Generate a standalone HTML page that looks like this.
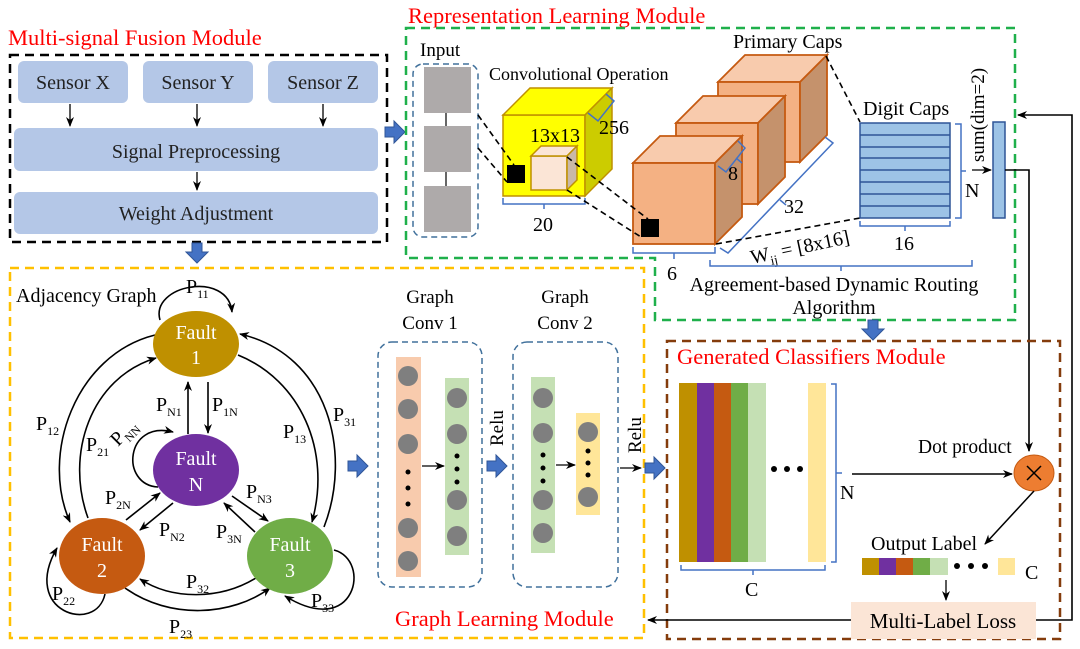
<!DOCTYPE html>
<html><head><meta charset="utf-8"><style>
html,body{margin:0;padding:0;background:#fff;}
svg{display:block;font-family:"Liberation Serif",serif;}
</style></head><body>
<svg width="1080" height="649" viewBox="0 0 1080 649" xmlns="http://www.w3.org/2000/svg">
<defs>
<marker id="a" markerWidth="10" markerHeight="8" refX="9" refY="4" orient="auto" markerUnits="userSpaceOnUse"><path d="M0,0 L10,4 L0,8 L3,4 Z" fill="#000"/></marker>
<g id="barrow"><path d="M0,-5 H9 V-11 L20,0 L9,11 V5 H0 Z" fill="#4472c4" stroke="#2f5597" stroke-width="1"/></g>
</defs>

<!-- Multi-signal Fusion -->
<text x="8" y="45" font-size="22.5" fill="#ff0000">Multi-signal Fusion Module</text>
<rect x="10" y="55" width="377" height="187" fill="none" stroke="#000" stroke-width="2.5" stroke-dasharray="9,6"/>
<g fill="#b4c7e7">
<rect x="18" y="61" width="110" height="42" rx="6"/>
<rect x="143" y="61" width="110" height="42" rx="6"/>
<rect x="268" y="61" width="110" height="42" rx="6"/>
<rect x="14" y="128" width="364" height="43" rx="6"/>
<rect x="14" y="192" width="364" height="42" rx="6"/>
</g>
<g font-size="20" text-anchor="middle" fill="#222">
<text x="73" y="89">Sensor X</text><text x="198" y="89">Sensor Y</text><text x="323" y="89">Sensor Z</text>
<text x="196" y="158">Signal Preprocessing</text>
<text x="196" y="220">Weight Adjustment</text>
</g>
<g stroke="#000" stroke-width="1.3" marker-end="url(#a)">
<line x1="70" y1="104" x2="70" y2="126"/><line x1="197" y1="104" x2="197" y2="126"/><line x1="323" y1="104" x2="323" y2="126"/>
<line x1="197" y1="172" x2="197" y2="190"/>
</g>
<use href="#barrow" transform="translate(385,132)"/>
<use href="#barrow" transform="translate(197,243) rotate(90)"/>

<!-- Representation Learning -->
<text x="408" y="23" font-size="22.5" fill="#ff0000">Representation Learning Module</text>
<path d="M406 28 H1015 V320 H655 V258 H406 Z" fill="none" stroke="#1fb04b" stroke-width="2.5" stroke-dasharray="9,6"/>
<text x="420" y="56" font-size="19">Input</text>
<rect x="413" y="64" width="65" height="173" rx="10" fill="none" stroke="#41719c" stroke-width="1.5" stroke-dasharray="6,4"/>
<line x1="446" y1="110" x2="446" y2="190" stroke="#000" stroke-width="1.2"/>
<g fill="#aeaaaa"><rect x="424" y="67" width="47" height="46"/><rect x="424" y="126" width="47" height="46"/><rect x="424" y="186" width="47" height="46"/></g>
<text x="489" y="80" font-size="18">Convolutional Operation</text>
<g stroke="#bf9000" stroke-width="1.5">
<rect x="503" y="115" width="82" height="81" fill="#ffff00"/>
<polygon points="503,115 530,88 612,88 585,115" fill="#ffff00"/>
<polygon points="585,115 612,88 612,169 585,196" fill="#cccc00"/>
<rect x="531" y="156" width="36" height="34" fill="#fbe5d6"/>
<polygon points="531,156 541,146 577,146 567,156" fill="#fbe5d6"/>
<polygon points="567,156 577,146 577,180 567,190" fill="#c9b8a8"/>
</g>
<rect x="507" y="165" width="18" height="18" fill="#000"/>
<text x="530" y="142" font-size="20">13x13</text>
<text x="599" y="134" font-size="20">256</text>
<path d="M588 113 L598 121 L614 101 L606 94" fill="none" stroke="#4472c4" stroke-width="1.5"/>
<path d="M503 198 V204 H585 V198 M544 204 V209" fill="none" stroke="#4472c4" stroke-width="1.5"/>
<text x="533" y="231" font-size="20">20</text>
<g stroke="#c55a11" stroke-width="1.8">
<polygon points="718,82 745,55 827,55 800,82" fill="#f8cbad"/>
<rect x="718" y="82" width="82" height="80" fill="#f4b183"/>
<polygon points="800,82 827,55 827,135 800,162" fill="#c5926c"/>
<polygon points="676,123 703,96 785,96 758,123" fill="#f8cbad"/>
<rect x="676" y="123" width="82" height="81" fill="#f4b183"/>
<polygon points="758,123 785,96 785,177 758,204" fill="#c5926c"/>
<polygon points="633,163 660,136 742,136 715,163" fill="#f8cbad"/>
<rect x="633" y="163" width="82" height="81" fill="#f4b183"/>
<polygon points="715,163 742,136 742,217 715,244" fill="#c5926c"/>
</g>
<rect x="641" y="219" width="18" height="18" fill="#000"/>
<text x="733" y="48" font-size="20">Primary Caps</text>
<path d="M718 166 L726 172 L745 148 L738 141 M736 158 L742 163" fill="none" stroke="#4472c4" stroke-width="1.5"/>
<text x="728" y="180" font-size="20">8</text>
<path d="M720 248 L728 253 L833 143 L825 137 M780 200 L786 205" fill="none" stroke="#4472c4" stroke-width="1.5"/>
<text x="784" y="213" font-size="20">32</text>
<path d="M633 247 V253 H715 V247 M674 253 V259" fill="none" stroke="#4472c4" stroke-width="1.5"/>
<text x="667" y="280" font-size="20">6</text>
<g stroke="#000" stroke-width="1.6" stroke-dasharray="6,4" fill="none">
<line x1="478" y1="115" x2="514" y2="165"/>
<line x1="478" y1="148" x2="507" y2="182"/>
<line x1="567" y1="157" x2="648" y2="219"/>
<line x1="567" y1="190" x2="641" y2="237"/>
<line x1="826" y1="56" x2="860" y2="122"/>
<line x1="716" y1="244" x2="860" y2="218"/>
</g>
<text x="0" y="0" font-size="20" transform="translate(752,264) rotate(-12)">W<tspan font-size="13" dy="5">ij</tspan><tspan dy="-5"> = [8x16]</tspan></text>
<text x="863" y="115" font-size="20">Digit Caps</text>
<rect x="860" y="123" width="90" height="95" fill="#9dc3e6" stroke="#2f5597" stroke-width="1.5"/>
<g stroke="#2f5597" stroke-width="1.5">
<line x1="860" y1="135" x2="950" y2="135"/><line x1="860" y1="147" x2="950" y2="147"/><line x1="860" y1="158" x2="950" y2="158"/><line x1="860" y1="170" x2="950" y2="170"/><line x1="860" y1="182" x2="950" y2="182"/><line x1="860" y1="194" x2="950" y2="194"/><line x1="860" y1="206" x2="950" y2="206"/>
</g>
<path d="M955 124 H961 V218 H955 M961 171 H966" fill="none" stroke="#4472c4" stroke-width="1.5"/>
<path d="M860 221 V226 H950 V221 M905 226 V231" fill="none" stroke="#4472c4" stroke-width="1.5"/>
<text x="894" y="250" font-size="20">16</text>
<text x="965" y="197" font-size="20">N</text>
<text x="0" y="0" font-size="19" transform="translate(984,162) rotate(-90)">sum(dim=2)</text>
<line x1="972" y1="170" x2="991" y2="170" stroke="#000" stroke-width="1.3" marker-end="url(#a)"/>
<rect x="993" y="122" width="12" height="96" fill="#9dc3e6" stroke="#2f5597" stroke-width="1.5"/>
<path d="M710 260 V266 H972 V260 M841 266 V271" fill="none" stroke="#4472c4" stroke-width="1.5"/>
<text x="834" y="291" font-size="20" text-anchor="middle">Agreement-based Dynamic Routing</text>
<text x="834" y="314" font-size="20" text-anchor="middle">Algorithm</text>
<use href="#barrow" transform="translate(873,320) rotate(90)"/>
<polyline points="1005,170 1029,170 1029,451" fill="none" stroke="#000" stroke-width="1.6" marker-end="url(#a)"/>
<polyline points="1036,620 1072,620 1072,115 1018,115" fill="none" stroke="#000" stroke-width="1.6" marker-end="url(#a)"/>

<!-- Graph Learning Module -->
<rect x="10" y="268" width="634" height="370" fill="none" stroke="#ffc000" stroke-width="2.5" stroke-dasharray="9,6"/>
<text x="16" y="302" font-size="20">Adjacency Graph</text>
<g stroke="#000" stroke-width="1.6" fill="none" marker-end="url(#a)">
<path d="M160 320 C150 285 228 270 232 312"/>
<path d="M155 335 C75 355 40 455 70 522"/>
<path d="M88 518 C65 455 90 378 156 358"/>
<path d="M324 527 C352 455 330 355 240 334"/>
<path d="M238 355 C300 380 332 450 312 522"/>
<line x1="188" y1="434" x2="188" y2="382"/>
<line x1="208" y1="382" x2="208" y2="433"/>
<path d="M158 487 C120 485 125 420 173 432"/>
<line x1="126" y1="520" x2="160" y2="493"/>
<line x1="173" y1="503" x2="140" y2="530"/>
<line x1="232" y1="496" x2="268" y2="521"/>
<line x1="255" y1="532" x2="224" y2="503"/>
<path d="M256 578 C220 600 172 600 140 579"/>
<path d="M125 588 C170 620 232 616 270 588"/>
<path d="M105 594 C96 635 20 612 57 548"/>
<path d="M334 550 C372 560 356 640 285 596"/>
</g>
<g fill="#fff" font-size="20" text-anchor="middle">
<ellipse cx="196" cy="344" rx="43" ry="33" fill="#bf9000"/>
<ellipse cx="196" cy="470" rx="43" ry="36" fill="#7030a0"/>
<ellipse cx="102" cy="556" rx="43" ry="38" fill="#c55a11"/>
<ellipse cx="290" cy="556" rx="43" ry="38" fill="#70ad47"/>
<text x="196" y="339">Fault</text><text x="196" y="364">1</text>
<text x="196" y="465">Fault</text><text x="196" y="491">N</text>
<text x="102" y="551">Fault</text><text x="102" y="577">2</text>
<text x="290" y="551">Fault</text><text x="290" y="577">3</text>
</g>
<g font-size="20">
<text x="186" y="293">P<tspan font-size="12" dy="5">11</tspan></text>
<text x="36" y="430">P<tspan font-size="12" dy="5">12</tspan></text>
<text x="86" y="451">P<tspan font-size="12" dy="5">21</tspan></text>
<text x="0" y="0" transform="translate(118,447) rotate(-45)">P<tspan font-size="12" dy="5">NN</tspan></text>
<text x="156" y="411">P<tspan font-size="12" dy="5">N1</tspan></text>
<text x="212" y="411">P<tspan font-size="12" dy="5">1N</tspan></text>
<text x="283" y="438">P<tspan font-size="12" dy="5">13</tspan></text>
<text x="333" y="421">P<tspan font-size="12" dy="5">31</tspan></text>
<text x="105" y="504">P<tspan font-size="12" dy="5">2N</tspan></text>
<text x="159" y="536">P<tspan font-size="12" dy="5">N2</tspan></text>
<text x="246" y="498">P<tspan font-size="12" dy="5">N3</tspan></text>
<text x="216" y="538">P<tspan font-size="12" dy="5">3N</tspan></text>
<text x="186" y="588">P<tspan font-size="12" dy="5">32</tspan></text>
<text x="52" y="600">P<tspan font-size="12" dy="5">22</tspan></text>
<text x="311" y="607">P<tspan font-size="12" dy="5">33</tspan></text>
<text x="169" y="633">P<tspan font-size="12" dy="5">23</tspan></text>
</g>
<use href="#barrow" transform="translate(348,466)"/>
<text x="430" y="303" font-size="19" text-anchor="middle">Graph</text>
<text x="430" y="329" font-size="19" text-anchor="middle">Conv 1</text>
<text x="565" y="303" font-size="19" text-anchor="middle">Graph</text>
<text x="565" y="329" font-size="19" text-anchor="middle">Conv 2</text>
<rect x="378" y="342" width="104" height="245" rx="14" fill="none" stroke="#41719c" stroke-width="1.5" stroke-dasharray="6,4"/>
<rect x="513" y="342" width="105" height="245" rx="14" fill="none" stroke="#41719c" stroke-width="1.5" stroke-dasharray="6,4"/>
<rect x="396" y="357" width="25" height="220" fill="#f8cbad"/>
<rect x="445" y="378" width="24" height="177" fill="#c5e0b4"/>
<rect x="531" y="377" width="24" height="176" fill="#c5e0b4"/>
<rect x="576" y="413" width="24" height="102" fill="#ffe699"/>
<g fill="#7f7f7f">
<circle cx="408" cy="376" r="10"/><circle cx="408" cy="409" r="10"/><circle cx="408" cy="444" r="10"/><circle cx="408" cy="528" r="10"/><circle cx="408" cy="561" r="10"/>
<circle cx="457" cy="398" r="10"/><circle cx="457" cy="434" r="10"/><circle cx="457" cy="500" r="10"/><circle cx="457" cy="536" r="10"/>
<circle cx="543" cy="398" r="10"/><circle cx="543" cy="433" r="10"/><circle cx="543" cy="500" r="10"/><circle cx="543" cy="533" r="10"/>
<circle cx="588" cy="432" r="10"/><circle cx="588" cy="497" r="10"/>
</g>
<g fill="#000">
<circle cx="408" cy="472" r="2.5"/><circle cx="408" cy="488" r="2.5"/><circle cx="408" cy="504" r="2.5"/>
<circle cx="457" cy="456" r="2.5"/><circle cx="457" cy="469" r="2.5"/><circle cx="457" cy="482" r="2.5"/>
<circle cx="543" cy="455" r="2.5"/><circle cx="543" cy="468" r="2.5"/><circle cx="543" cy="481" r="2.5"/>
<circle cx="588" cy="451" r="2.5"/><circle cx="588" cy="463" r="2.5"/><circle cx="588" cy="475" r="2.5"/>
</g>
<g stroke="#000" stroke-width="1.3" marker-end="url(#a)">
<line x1="422" y1="466" x2="444" y2="466"/><line x1="556" y1="465" x2="575" y2="465"/><line x1="620" y1="468" x2="641" y2="468"/>
</g>
<text x="0" y="0" font-size="19" transform="translate(503,446) rotate(-90)">Relu</text>
<text x="0" y="0" font-size="19" transform="translate(641,453) rotate(-90)">Relu</text>
<use href="#barrow" transform="translate(487,466)"/>
<use href="#barrow" transform="translate(645,468)"/>
<text x="395" y="626" font-size="22.5" fill="#ff0000">Graph Learning Module</text>

<!-- Generated Classifiers -->
<rect x="667" y="341" width="393" height="298" fill="none" stroke="#843c0c" stroke-width="2.5" stroke-dasharray="9,6"/>
<text x="677" y="364" font-size="22.5" fill="#ff0000">Generated Classifiers Module</text>
<rect x="679" y="383" width="18" height="179" fill="#bf9000"/>
<rect x="697" y="383" width="17" height="179" fill="#7030a0"/>
<rect x="714" y="383" width="17" height="179" fill="#c55a11"/>
<rect x="731" y="383" width="17" height="179" fill="#70ad47"/>
<rect x="748" y="383" width="18" height="179" fill="#c5e0b4"/>
<rect x="808" y="383" width="18" height="179" fill="#ffe699"/>
<g fill="#000"><circle cx="774" cy="469" r="3"/><circle cx="787" cy="469" r="3"/><circle cx="800" cy="469" r="3"/></g>
<path d="M831 384 H836 V562 H831 M836 473 H842" fill="none" stroke="#4472c4" stroke-width="1.5"/>
<path d="M681 565 V570 H825 V565 M753 570 V575" fill="none" stroke="#4472c4" stroke-width="1.5"/>
<text x="745" y="596" font-size="20">C</text>
<text x="840" y="499" font-size="20">N</text>
<line x1="852" y1="474" x2="1012" y2="474" stroke="#000" stroke-width="1.5" marker-end="url(#a)"/>
<text x="918" y="453" font-size="19.5">Dot product</text>
<ellipse cx="1034" cy="473" rx="20" ry="18" fill="#ed7d31" stroke="#c55a11" stroke-width="1"/>
<path d="M1027 466 L1041 480 M1041 466 L1027 480" stroke="#000" stroke-width="1.5"/>
<line x1="1034" y1="491" x2="985" y2="544" stroke="#000" stroke-width="1.5" marker-end="url(#a)"/>
<text x="871" y="550" font-size="20">Output Label</text>
<rect x="862" y="558" width="17" height="17" fill="#bf9000"/>
<rect x="879" y="558" width="17" height="17" fill="#7030a0"/>
<rect x="896" y="558" width="17" height="17" fill="#c55a11"/>
<rect x="913" y="558" width="17" height="17" fill="#70ad47"/>
<rect x="930" y="558" width="18" height="17" fill="#c5e0b4"/>
<g fill="#000"><circle cx="957" cy="566" r="3"/><circle cx="971" cy="566" r="3"/><circle cx="985" cy="566" r="3"/></g>
<rect x="998" y="558" width="17" height="17" fill="#ffe699"/>
<text x="1025" y="579" font-size="20">C</text>
<line x1="946" y1="580" x2="946" y2="600" stroke="#000" stroke-width="1.3" marker-end="url(#a)"/>
<line x1="851" y1="620" x2="648" y2="620" stroke="#000" stroke-width="1.6" marker-end="url(#a)"/>
<rect x="851" y="602" width="185" height="37" fill="#fbe5d6"/>
<text x="943" y="628" font-size="21" text-anchor="middle">Multi-Label Loss</text>
</svg>
</body></html>
